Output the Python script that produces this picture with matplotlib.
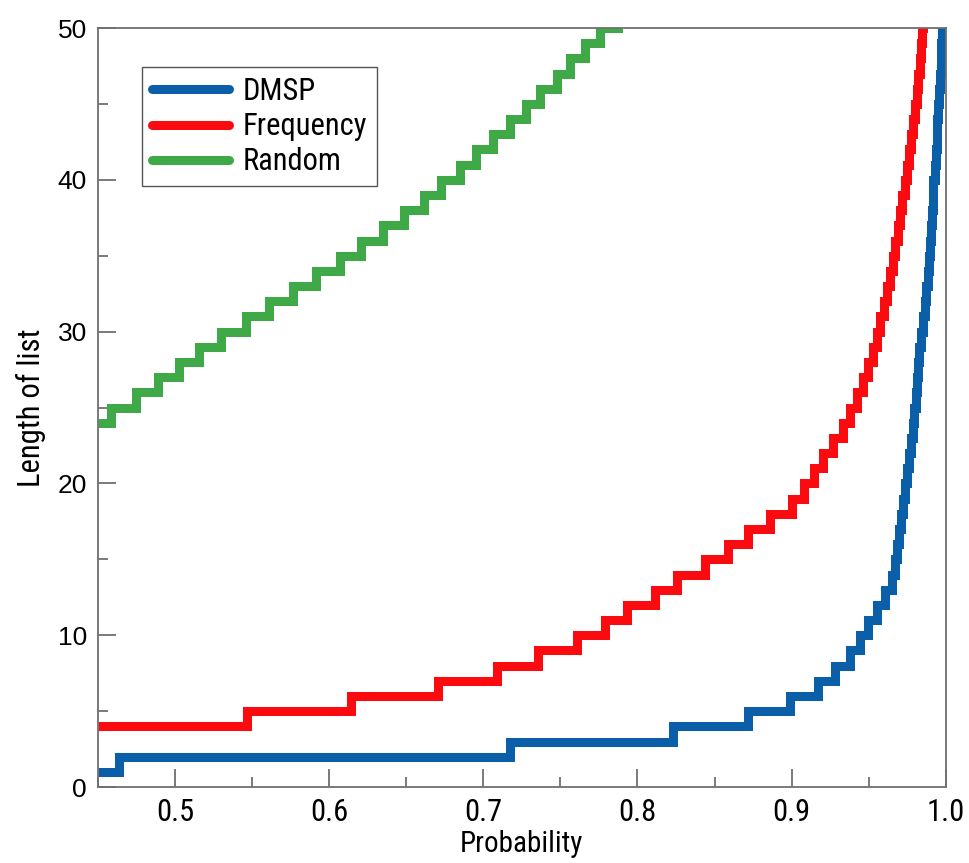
import numpy as np
import matplotlib.pyplot as plt
from matplotlib import font_manager as fm
from matplotlib.ticker import MultipleLocator

# pick a condensed face if one is installed
installed = {f.name for f in fm.fontManager.ttflist}
narrow = 'DejaVu Sans'
for name in ['Liberation Sans Narrow', 'DejaVu Sans Condensed', 'Roboto Condensed']:
    if name in installed:
        narrow = name
        break

# x where each new list length starts (step 'post'), and the lengths
dmsp_x = [0.45, 0.4634, 0.7171, 0.8232, 0.8719, 0.8990, 0.9171, 0.9282, 0.9379,
          0.9444, 0.9498, 0.9551, 0.9606, 0.9649, 0.9668, 0.9684, 0.9697, 0.9707,
          0.9720, 0.9733, 0.9749, 0.9762, 0.9775, 0.9787, 0.9797, 0.9805, 0.9811,
          0.9817, 0.9827, 0.9837, 0.9850, 0.9863, 0.9873, 0.9882, 0.9890, 0.9897,
          0.9903, 0.9908, 0.9915, 0.9920, 0.9928, 0.9934, 0.9940, 0.9945, 0.9952,
          0.9957, 0.9962, 0.9967, 0.9972, 0.9977, 0.9983]
dmsp_y = list(range(1, 52))

freq_x = [0.45, 0.5466, 0.6143, 0.6706, 0.7087, 0.7355, 0.7610, 0.7788, 0.7929,
          0.8113, 0.8254, 0.8441, 0.8589, 0.8719, 0.8860, 0.9001, 0.9080, 0.9145,
          0.9201, 0.9271, 0.9331, 0.9379, 0.9425, 0.9464, 0.9496, 0.9529, 0.9555,
          0.9574, 0.9597, 0.9618, 0.9636, 0.9655, 0.9671, 0.9688, 0.9704, 0.9717,
          0.9733, 0.9746, 0.9762, 0.9775, 0.9788, 0.9801, 0.9811, 0.9821, 0.9831,
          0.9837, 0.9844, 0.9853]
freq_y = list(range(4, 52))

rand_x = [0.45, 0.4587, 0.4747, 0.4888, 0.5024, 0.5158, 0.5299, 0.5462, 0.5608,
          0.5764, 0.5912, 0.6067, 0.6208, 0.6349, 0.6483, 0.6613, 0.6728, 0.6847,
          0.6955, 0.7063, 0.7171, 0.7280, 0.7366, 0.7475, 0.7561, 0.7659, 0.7756,
          0.7873]
rand_y = list(range(24, 52))

xticks = [0.5, 0.6, 0.7, 0.8, 0.9, 1.0]
yticks = [0, 10, 20, 30, 40, 50]

fig = plt.figure(figsize=(9.7, 8.63), dpi=100)
ax = fig.add_axes([0.101, 0.088, 0.874, 0.8795])

lw = 6.5
for xs, ys, col, lab in [(dmsp_x, dmsp_y, '#0a5fa8', 'DMSP'),
                         (freq_x, freq_y, '#fb0a0f', 'Frequency'),
                         (rand_x, rand_y, '#3fa847', 'Random')]:
    ax.step(xs + [1.01], ys + [ys[-1]], where='post', color=col, lw=lw,
            solid_joinstyle='miter', solid_capstyle='butt', label=lab)

ax.set_xlim(0.45, 1.0)
ax.set_ylim(0, 50)
ax.set_xticks(xticks)
ax.set_xticklabels(['%.1f' % v for v in xticks], family=narrow, fontsize=22)
ax.set_yticks(yticks)
ax.set_yticklabels([str(v) for v in yticks], family='Liberation Sans', fontsize=19)
ax.xaxis.set_minor_locator(MultipleLocator(0.05))
ax.yaxis.set_minor_locator(MultipleLocator(5))
ax.tick_params(which='both', direction='in', top=False, right=False,
               color='#707070', width=1.3)
ax.tick_params(which='major', length=13)
ax.tick_params(which='minor', length=7)
ax.tick_params(axis='x', pad=8)
ax.tick_params(axis='y', pad=8)

for sp in ax.spines.values():
    sp.set_color('#707070')
    sp.set_linewidth(1.3)

ax.set_xlabel('Probability', family=narrow, fontsize=21, labelpad=2)
ax.set_ylabel('Length of list', family=narrow, fontsize=22, labelpad=8)

leg = ax.legend(loc='upper left', bbox_to_anchor=(0.052, 0.9486), borderaxespad=0,
                fancybox=False, edgecolor='#555555', framealpha=1,
                prop={'family': narrow, 'size': 22}, handlelength=2.5,
                labelspacing=0.2, handletextpad=0.45, borderpad=0.33)
leg.get_frame().set_linewidth(1.0)
for h in leg.get_lines():
    h.set_solid_capstyle('round')

fig.savefig('out.png', dpi=100)
